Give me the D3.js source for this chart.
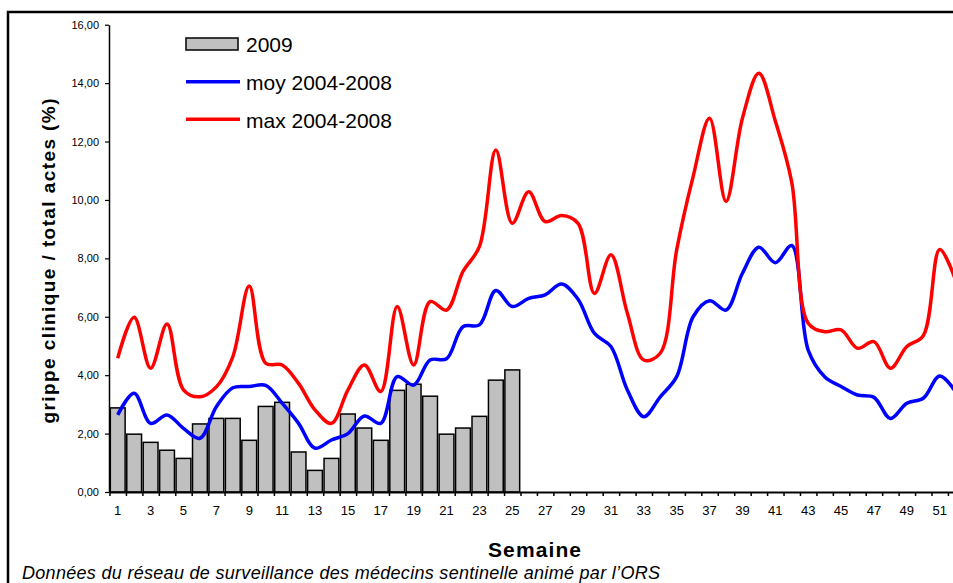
<!DOCTYPE html>
<html>
<head>
<meta charset="utf-8">
<script src="https://cdn.jsdelivr.net/npm/d3@7"></script>
<style>
  body { margin: 0; background: #fff; }
  svg { display: block; font-family: "Liberation Sans", Arial, sans-serif; }
</style>
</head>
<body>
<div id="graphe"></div>
<script>
// semaines 1..52
var semaines = d3.range(1, 53);
var labelsSemaine = d3.range(1, 53, 2);
var ticksY = [0, 2, 4, 6, 8, 10, 12, 14, 16];

// 2009 (semaines 1 a 25)
var val2009 = [2.88, 1.98, 1.70, 1.43, 1.15, 2.33, 2.52, 2.52, 1.77, 2.93, 3.07, 1.37, 0.74,
  1.15, 2.67, 2.19, 1.77, 3.48, 3.69, 3.28, 1.98, 2.19, 2.59, 3.83, 4.18];

// moyenne 2004-2008
var moy = [2.64, 3.38, 2.35, 2.64, 2.18, 1.84, 2.92, 3.57, 3.61, 3.65, 3.04, 2.35, 1.50,
  1.78, 2.00, 2.60, 2.35, 3.95, 3.66, 4.52, 4.56, 5.66, 5.72, 6.90, 6.35, 6.63,
  6.75, 7.12, 6.60, 5.43, 4.98, 3.49, 2.58, 3.26, 3.95, 6.00, 6.55, 6.23, 7.49,
  8.38, 7.85, 8.44, 4.86, 3.95, 3.61, 3.32, 3.24, 2.52, 3.04, 3.21, 3.97, 3.40];

// maximum 2004-2008
var max = [4.58, 5.98, 4.24, 5.75, 3.50, 3.26, 3.60, 4.63, 7.05, 4.41, 4.35, 3.72, 2.81,
  2.35, 3.49, 4.35, 3.44, 6.35, 4.35, 6.52, 6.23, 7.55, 8.40, 11.71, 9.20, 10.28,
  9.26, 9.47, 9.20, 6.80, 8.12, 6.12, 4.52, 4.75, 8.29, 10.80, 12.80, 9.95, 12.80,
  14.34, 12.70, 10.60, 5.78, 5.49, 5.55, 4.92, 5.15, 4.24, 4.98, 5.35, 8.30, 7.20];

var width = 953, height = 583;

var svg = d3.select('#graphe').append('svg')
  .attr('width', width)
  .attr('height', height);

// cadre
svg.append('path')
  .attr('d', 'M8,' + (height + 5) + 'V12H' + (width + 5))
  .attr('fill', 'none')
  .attr('stroke', '#000')
  .attr('stroke-width', 2.5);

var x = d3.scaleBand()
  .domain(semaines)
  .range([109.5, 109.5 + 52 * 16.44])
  .paddingInner(0.1)
  .paddingOuter(0.05);

var xBord = d3.scaleLinear()
  .domain([0.5, 52.5])
  .range([109.5, 109.5 + 52 * 16.44]);

var y = d3.scaleLinear()
  .domain([0, 16])
  .range([492, 24.7]);

// barres 2009
svg.append('g').selectAll('rect')
  .data(val2009)
  .enter().append('rect')
  .attr('x', function (d, i) { return x(i + 1); })
  .attr('y', function (d) { return y(d); })
  .attr('width', x.bandwidth())
  .attr('height', function (d) { return y(0) - y(d); })
  .attr('fill', '#c0c0c0')
  .attr('stroke', '#000')
  .attr('stroke-width', 1.5);

// axe Y
var axeY = svg.append('g')
  .attr('transform', 'translate(109,0)')
  .call(d3.axisLeft(y)
    .tickValues(ticksY)
    .tickSize(4)
    .tickSizeOuter(0)
    .tickPadding(6)
    .tickFormat(function (d) { return d3.format('.2f')(d).replace('.', ','); }));
axeY.select('.domain').attr('stroke-width', 1.5);
axeY.selectAll('line').attr('stroke-width', 1.2);
axeY.selectAll('text')
  .attr('font-size', 11)
  .attr('font-family', '"Liberation Sans", Arial, sans-serif')
  .attr('fill', '#000');

// axe X : traits entre les semaines
var axeX = svg.append('g')
  .attr('transform', 'translate(0,' + y(0) + ')')
  .call(d3.axisBottom(xBord)
    .tickValues(d3.range(0.5, 53, 1))
    .tickSize(4)
    .tickSizeOuter(0)
    .tickFormat(''));
axeX.select('.domain').attr('stroke-width', 1.8);
axeX.selectAll('line').attr('stroke-width', 1.5);

// etiquettes semaines
var axeLabels = svg.append('g')
  .attr('transform', 'translate(0,' + y(0) + ')')
  .call(d3.axisBottom(x)
    .tickValues(labelsSemaine)
    .tickSize(0)
    .tickPadding(14));
axeLabels.select('.domain').remove();
axeLabels.selectAll('text')
  .attr('font-size', 13)
  .attr('font-family', '"Liberation Sans", Arial, sans-serif')
  .attr('fill', '#000');

var ligne = function (serie) {
  return d3.line()
    .x(function (d, i) { return x(i + 1) + x.bandwidth() / 2; })
    .y(function (d) { return y(d); })
    .curve(d3.curveCatmullRom.alpha(0.5))(serie);
};

svg.append('path')
  .attr('d', ligne(moy))
  .attr('fill', 'none')
  .attr('stroke', '#0000ff')
  .attr('stroke-width', 3.5)
  .attr('stroke-linejoin', 'round');

svg.append('path')
  .attr('d', ligne(max))
  .attr('fill', 'none')
  .attr('stroke', '#ff0000')
  .attr('stroke-width', 3.5)
  .attr('stroke-linejoin', 'round');

// legende
var legende = svg.append('g');
legende.append('rect')
  .attr('x', 186).attr('y', 38)
  .attr('width', 52).attr('height', 12)
  .attr('fill', '#c0c0c0')
  .attr('stroke', '#000')
  .attr('stroke-width', 1.5);
legende.append('line')
  .attr('x1', 186).attr('x2', 240)
  .attr('y1', 81.7).attr('y2', 81.7)
  .attr('stroke', '#0000ff').attr('stroke-width', 3.5);
legende.append('line')
  .attr('x1', 186).attr('x2', 240)
  .attr('y1', 119.3).attr('y2', 119.3)
  .attr('stroke', '#ff0000').attr('stroke-width', 3.5);
legende.selectAll('text')
  .data([['2009', 51.5], ['moy 2004-2008', 89.7], ['max 2004-2008', 127.5]])
  .enter().append('text')
  .attr('x', 246)
  .attr('y', function (d) { return d[1]; })
  .attr('font-size', 21)
  .text(function (d) { return d[0]; });

// titres
svg.append('text')
  .attr('transform', 'translate(55,261) rotate(-90)')
  .attr('text-anchor', 'middle')
  .attr('font-size', 19)
  .attr('font-weight', 'bold')
  .attr('textLength', 325)
  .attr('lengthAdjust', 'spacing')
  .text('grippe clinique / total actes (%)');

svg.append('text')
  .attr('x', 488)
  .attr('y', 556.5)
  .attr('font-size', 21)
  .attr('font-weight', 'bold')
  .attr('textLength', 93)
  .attr('lengthAdjust', 'spacing')
  .text('Semaine');

svg.append('text')
  .attr('x', 22)
  .attr('y', 579)
  .attr('font-size', 18)
  .attr('font-style', 'italic')
  .attr('textLength', 638)
  .attr('lengthAdjust', 'spacing')
  .text('Données du réseau de surveillance des médecins sentinelle animé par l’ORS');
</script>
</body>
</html>
